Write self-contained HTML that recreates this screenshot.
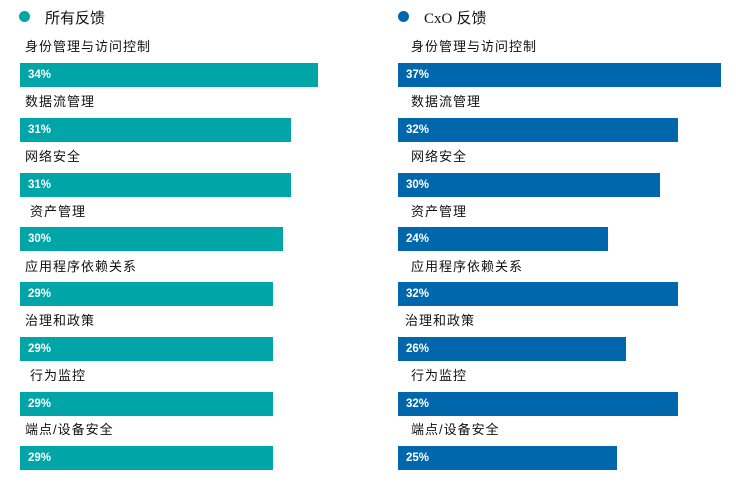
<!DOCTYPE html>
<html><head><meta charset="utf-8"><style>
body{margin:0;width:736px;height:493px;background:#fff;position:relative;overflow:hidden;font-family:"Liberation Sans","Noto Sans CJK SC",sans-serif}
.d{position:absolute;width:11px;height:11px;border-radius:50%}
.t{position:absolute;font-size:15px;color:#111;line-height:18px}
.l{position:absolute;font-size:13px;color:#111;line-height:16px;letter-spacing:1px;white-space:nowrap}
.b{position:absolute;height:24px;color:#fff;font-weight:bold;font-size:11.5px;line-height:24px;padding-left:8px;box-sizing:border-box}
.a{background:#00A5A8}.c{background:#0067AC}
</style></head><body>
<div class="d a" style="left:19px;top:11px"></div><div class="t" style="left:45px;top:10px">所有反馈</div>
<div class="d c" style="left:398px;top:11px"></div><div class="t" style="left:424px;top:10px"><span style="font-family:'Liberation Serif',serif">CxO</span> 反馈</div>

<div class="l" style="left:25px;top:39px">身份管理与访问控制</div><div class="b a" style="left:20px;top:63px;width:298px">34%</div>
<div class="l" style="left:25px;top:94px">数据流管理</div><div class="b a" style="left:20px;top:118px;width:271px">31%</div>
<div class="l" style="left:25px;top:149px">网络安全</div><div class="b a" style="left:20px;top:173px;width:271px">31%</div>
<div class="l" style="left:30px;top:204px">资产管理</div><div class="b a" style="left:20px;top:227px;width:263px">30%</div>
<div class="l" style="left:25px;top:259px">应用程序依赖关系</div><div class="b a" style="left:20px;top:282px;width:253px">29%</div>
<div class="l" style="left:25px;top:313px">治理和政策</div><div class="b a" style="left:20px;top:337px;width:253px">29%</div>
<div class="l" style="left:30px;top:368px">行为监控</div><div class="b a" style="left:20px;top:392px;width:253px">29%</div>
<div class="l" style="left:25px;top:422px">端点/设备安全</div><div class="b a" style="left:20px;top:446px;width:253px">29%</div>

<div class="l" style="left:411px;top:39px">身份管理与访问控制</div><div class="b c" style="left:398px;top:63px;width:323px">37%</div>
<div class="l" style="left:411px;top:94px">数据流管理</div><div class="b c" style="left:398px;top:118px;width:280px">32%</div>
<div class="l" style="left:411px;top:149px">网络安全</div><div class="b c" style="left:398px;top:173px;width:262px">30%</div>
<div class="l" style="left:411px;top:204px">资产管理</div><div class="b c" style="left:398px;top:227px;width:210px">24%</div>
<div class="l" style="left:411px;top:259px">应用程序依赖关系</div><div class="b c" style="left:398px;top:282px;width:280px">32%</div>
<div class="l" style="left:405px;top:313px">治理和政策</div><div class="b c" style="left:398px;top:337px;width:228px">26%</div>
<div class="l" style="left:411px;top:368px">行为监控</div><div class="b c" style="left:398px;top:392px;width:280px">32%</div>
<div class="l" style="left:411px;top:422px">端点/设备安全</div><div class="b c" style="left:398px;top:446px;width:219px">25%</div>
</body></html>
